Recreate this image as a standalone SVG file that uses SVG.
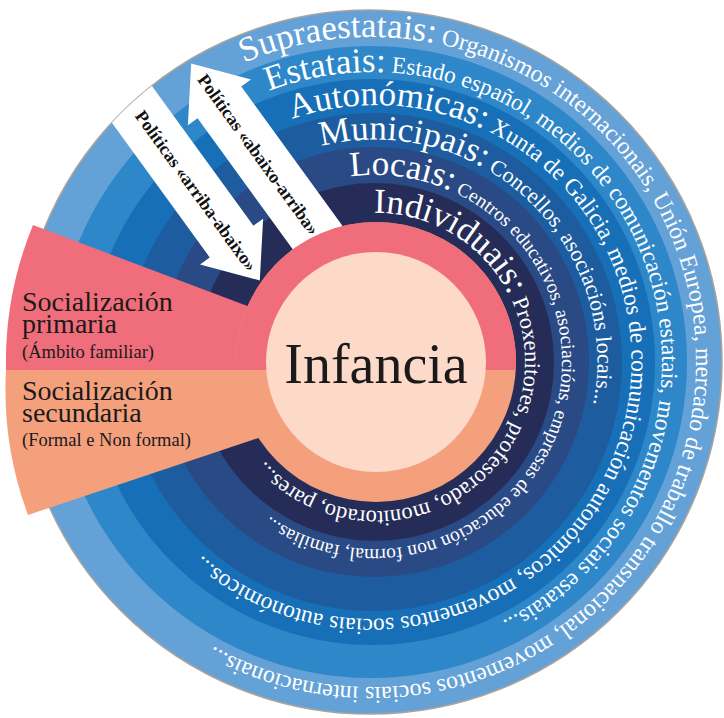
<svg xmlns="http://www.w3.org/2000/svg" width="724" height="718" viewBox="0 0 724 718">
  <defs>
    <style>
      .lbl{font-family:"Liberation Serif","Times New Roman",serif;fill:#ffffff}
      .big{font-size:35px}
      .arrow{fill:#ffffff}
      .arrow-label{font-family:"Liberation Serif","Times New Roman",serif;font-weight:bold;font-size:18px;fill:#111111}
      .side{font-family:"Liberation Serif","Times New Roman",serif;fill:#1a1a1a}
    </style>
    <clipPath id="disc"><circle cx="370" cy="362" r="352"/></clipPath>
    <!-- clockwise circular baselines, one per band -->
    <path id="p-supra" d="M244,62.8 A325,325 0 1 1 498,661.2 A325,325 0 1 1 244,62.8"/>
    <path id="p-estat" d="M269,90.9 A290,290 0 1 1 475,633.1 A290,290 0 1 1 269,90.9"/>
    <path id="p-auton" d="M292.2,119.1 A256,256 0 1 1 453.8,604.9 A256,256 0 1 1 292.2,119.1"/>
    <path id="p-munic" d="M321.1,146.4 A222,222 0 1 1 426.9,577.6 A222,222 0 1 1 321.1,146.4"/>
    <path id="p-locai" d="M350.3,176.6 A187,187 0 1 1 399.7,547.4 A187,187 0 1 1 350.3,176.6"/>
    <path id="p-indiv" d="M373.9,213 A149,149 0 1 1 378.1,511 A149,149 0 1 1 373.9,213"/>
  </defs>

  <rect width="724" height="718" fill="#ffffff"/>

  <!-- concentric bands -->
  <g id="rings">
    <circle id="band-supraestatais" cx="370" cy="362" r="352" fill="#64a1d7" stroke="#a9a39c" stroke-width="1.5"/>
    <circle id="band-estatais" cx="371" cy="362" r="316" fill="#2d87c9"/>
    <circle id="band-autonomicas" cx="372" cy="362" r="283" fill="#1770b7"/>
    <circle id="band-municipais" cx="373" cy="362" r="249" fill="#1d5d9f"/>
    <circle id="band-locais" cx="374" cy="362" r="215" fill="#2a4a85"/>
    <circle id="band-individuais" cx="375" cy="362" r="179" fill="#252c57"/>
  </g>

  <!-- policy arrows -->
  <g id="connectors" clip-path="url(#disc)">
    <g id="arrow-abaixo-arriba" transform="translate(191.2,63.6) rotate(54)">
      <polygon class="arrow" points="0,0 48,-39 48,-27 340,-27 340,27 48,27 48,39"/>
      <text class="arrow-label" x="113" y="5" text-anchor="middle">Políticas «abaixo-arriba»</text>
    </g>
    <g id="arrow-arriba-abaixo" transform="translate(259.8,280.4) rotate(54)">
      <polygon class="arrow" points="0,0 -48,39 -48,27 -420,27 -420,-27 -48,-27 -48,-39"/>
      <text class="arrow-label" x="-110" y="5" text-anchor="middle">Políticas «arriba-abaixo»</text>
    </g>
  </g>

  <!-- band labels -->
  <g id="label-supraestatais">
    <text class="lbl"><textPath href="#p-supra"><tspan class="big">Supraestatais:</tspan><tspan font-size="24"> Organismos internacionais, Unión Europea, mercado de traballo transnacional, movementos sociais internacionais...</tspan></textPath></text>
  </g>
  <g id="label-estatais">
    <text class="lbl"><textPath href="#p-estat"><tspan class="big">Estatais:</tspan><tspan font-size="23.5"> Estado español, medios de comunicación estatais, movementos sociais estatais...</tspan></textPath></text>
  </g>
  <g id="label-autonomicas">
    <text class="lbl"><textPath href="#p-auton"><tspan class="big">Autonómicas:</tspan><tspan font-size="23.5"> Xunta de Galicia, medios de comunicación autonómicos, movementos sociais autonómicos...</tspan></textPath></text>
  </g>
  <g id="label-municipais">
    <text class="lbl"><textPath href="#p-munic"><tspan class="big">Municipais:</tspan><tspan font-size="22"> Concellos, asociacións locais...</tspan></textPath></text>
  </g>
  <g id="label-locais">
    <text class="lbl"><textPath href="#p-locai"><tspan class="big">Locais:</tspan><tspan font-size="19.5"> Centros educativos, asociacións, empresas de educación non formal, familias...</tspan></textPath></text>
  </g>
  <g id="label-individuais">
    <text class="lbl"><textPath href="#p-indiv"><tspan class="big">Individuais:</tspan><tspan font-size="22.5"> Proxenitores, profesorado, monitorado, pares...</tspan></textPath></text>
  </g>

  <!-- socialization wedges -->
  <g id="socializacion-primaria">
    <path d="M33,225 L300,326 L300,370 L6,370 A360,360 0 0 1 33,225 Z" fill="#f06e7c"/>
    <text class="side" x="22" y="311" font-size="28">Socialización</text>
    <text class="side" x="22" y="333" font-size="28">primaria</text>
    <text class="side" x="22" y="358" font-size="18.5">(Ámbito familiar)</text>
  </g>
  <g id="socializacion-secundaria">
    <path d="M6,370 L300,370 L300,424 L28,515 A360,360 0 0 1 6,370 Z" fill="#f4a07d"/>
    <text class="side" x="22" y="400" font-size="28">Socialización</text>
    <text class="side" x="22" y="422" font-size="28">secundaria</text>
    <text class="side" x="22" y="446" font-size="18.5">(Formal e Non formal)</text>
  </g>

  <!-- centre -->
  <g id="infancia">
    <circle cx="376" cy="362" r="140" fill="#f4a07d"/>
    <path d="M236.23,370 A140,140 0 1 1 515.77,370 Z" fill="#f06e7c"/>
    <circle cx="376" cy="362" r="110" fill="#fcd9c9"/>
    <text class="side" x="376" y="383" font-size="56" text-anchor="middle" fill="#111111">Infancia</text>
  </g>
</svg>
